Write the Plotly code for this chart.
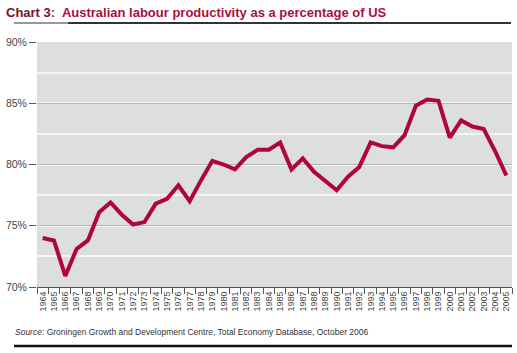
import plotly.graph_objects as go

years = list(range(1964, 2006))
year_labels = [str(y) for y in years]
productivity = [74.0, 73.8, 70.9, 73.1, 73.8, 76.1, 76.9, 75.9, 75.1, 75.3,
                76.8, 77.2, 78.3, 77.0, 78.7, 80.3, 80.0, 79.6, 80.6, 81.2,
                81.2, 81.8, 79.6, 80.5, 79.4, 78.7, 77.9, 79.0, 79.8, 81.8,
                81.5, 81.4, 82.4, 84.8, 85.3, 85.2, 82.2, 83.6, 83.1, 82.9,
                81.1, 79.1]
y_ticks = [70, 75, 80, 85, 90]
y_labels = ["70%", "75%", "80%", "85%", "90%"]

fig = go.Figure()
fig.add_trace(go.Scatter(x=years, y=productivity, mode="lines",
                         line=dict(color="#b0053c", width=4),
                         hoverinfo="skip"))

fig.update_layout(
    width=517, height=353,
    margin=dict(l=37, r=5, t=42, b=66, autoexpand=False),
    paper_bgcolor="white", plot_bgcolor="#dddedf",
    showlegend=False,
    font=dict(family="Liberation Sans, Arial, sans-serif", color="#333"),
)
fig.update_xaxes(type="linear", range=[years[0] - 0.5, years[-1] + 0.5],
                 tickvals=years, ticktext=year_labels, ticks="",
                 tickangle=-90, tickfont=dict(size=9, color="#444"),
                 minor=dict(tick0=years[0] - 0.5, dtick=1, ticks="outside",
                            ticklen=6, tickcolor="#555", showgrid=False),
                 showgrid=False, showline=True, linecolor="#555", linewidth=1,
                 zeroline=False, automargin=False)
fig.update_yaxes(range=[70, 90], tickvals=y_ticks, ticktext=y_labels,
                 ticks="outside", ticklen=7, tickcolor="#555",
                 tickfont=dict(size=10.5, color="#444"),
                 showgrid=True, gridcolor="#b5b5b5", gridwidth=1,
                 minor=dict(dtick=2.5, tick0=70, showgrid=True,
                            gridcolor="#f4f4f4", gridwidth=1.5, ticks=""),
                 zeroline=False, showline=False, automargin=False)

fig.add_annotation(xref="paper", yref="paper", x=-33/475, y=1 + 29/245,
                   xanchor="left", yanchor="middle", showarrow=False,
                   text="<b><span style='color:#7d1030'>Chart 3</span><span style='color:#555'>:</span>  Australian labour productivity as a percentage of US</b>",
                   font=dict(size=13, color="#a8103f",
                             family="Liberation Sans, Arial, sans-serif"))
fig.add_annotation(xref="paper", yref="paper", x=-24/475, y=-45/245,
                   xanchor="left", yanchor="middle", showarrow=False,
                   text="<i>Source:</i> Groningen Growth and Development Centre, Total Economy Database, October 2006",
                   font=dict(size=8.5, color="#333",
                             family="Liberation Sans, Arial, sans-serif"))
# title underline
fig.add_shape(type="line", xref="paper", yref="paper",
              x0=-23/475, x1=31/475, y0=1 + 19/245, y1=1 + 19/245,
              line=dict(color="#333", width=1))
fig.add_shape(type="line", xref="paper", yref="paper",
              x0=31/475, x1=1 - 1/475, y0=1 + 19/245, y1=1 + 19/245,
              line=dict(color="#333", width=2))
# bottom rule
fig.add_shape(type="line", xref="paper", yref="paper",
              x0=-23/475, x1=1, y0=-59/245, y1=-59/245,
              line=dict(color="#111", width=2.5))

fig.write_html("out.html", config={"displayModeBar": False},
               post_script="document.body.style.margin='0';document.body.style.overflow='hidden';")
